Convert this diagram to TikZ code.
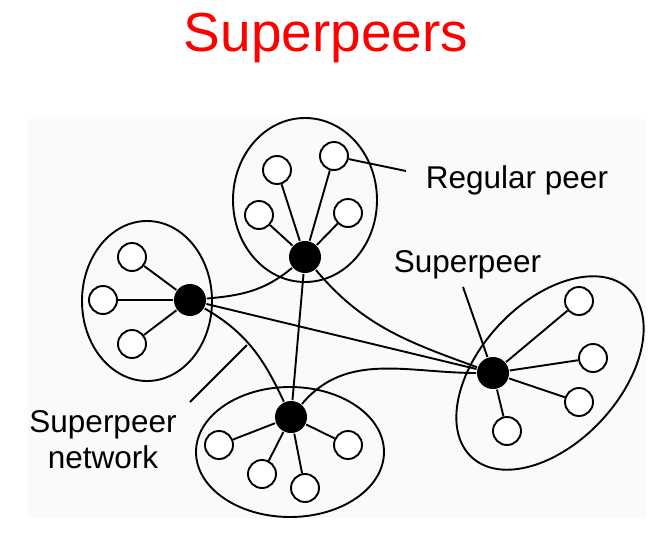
\documentclass[tikz,border=0pt]{standalone}
\usepackage{fontspec}
\setmainfont{Liberation Sans}
\definecolor{PeerTitle}{HTML}{FF0000}
\definecolor{PeerBack}{HTML}{FAFAFA}
\begin{document}
\begin{tikzpicture}[x=1pt,y=1pt,line width=1.9pt,
    peer/.style={circle,draw,fill=white,minimum size=28pt,inner sep=0pt},
    super/.style={circle,fill=black,minimum size=32pt,inner sep=0pt},
    lbl/.style={font=\fontsize{31.5}{36}\selectfont,inner sep=0pt}]
  \useasboundingbox (0,0) rectangle (654,-536);
  \fill[PeerBack] (28,-119) rectangle (646,-518);
  \node[text=PeerTitle,font=\fontsize{55}{60}\selectfont,inner sep=0pt,anchor=base] (title) at (326,-51) {Superpeers};

  \draw (305,-200) ellipse [x radius=72,y radius=82];
  \draw (147,-301) ellipse [x radius=65,y radius=80];
  \draw (290,-452) ellipse [x radius=94,y radius=65];
  \draw[rotate around={47:(550,-373)}] (550,-373) ellipse [x radius=115,y radius=70];

  \node[super] (top) at (305,-257) {};
  \node[super] (left) at (190,-300) {};
  \node[super] (bottom) at (291,-417) {};
  \node[super] (right) at (493,-373) {};

  \foreach \n/\x/\y/\sp in {t1/277/170/top,t2/334/156/top,t3/259/215/top,t4/348/213/top,
      l1/132/257/left,l2/103/300/left,l3/132/344/left,
      b1/219/445/bottom,b2/262/474/bottom,b3/305/488/bottom,b4/348/445/bottom,
      r1/579/301/right,r2/593/358/right,r3/579/402/right,r4/507/431/right} {
    \node[peer] (\n) at (\x,-\y) {};
    \draw (\sp) -- (\n);
  }

  \draw (left) to[out=5,in=220] (top);
  \draw (left) -- (right);
  \draw (left) to[out=-30,in=115] (bottom);
  \draw (top) -- (bottom);
  \draw (top) to[out=-50,in=160] (right);
  \draw (bottom) to[out=50,in=180] (right);

  \node[lbl,anchor=base west] (regular) at (425,-188) {Regular peer};
  \coordinate (regtip) at (406,-171);
  \draw (t2) -- (regtip);

  \node[lbl,anchor=base west] (superlbl) at (393,-272) {Superpeer};
  \coordinate (suptip) at (463,-287);
  \draw (suptip) -- (right);

  \node[lbl,align=center,anchor=base] (netlbl) at (103,-468) {Superpeer\\network};
  \coordinate (nettip) at (190,-402);
  \coordinate (netend) at (247,-345);
  \draw (nettip) -- (netend);
\end{tikzpicture}
\end{document}
